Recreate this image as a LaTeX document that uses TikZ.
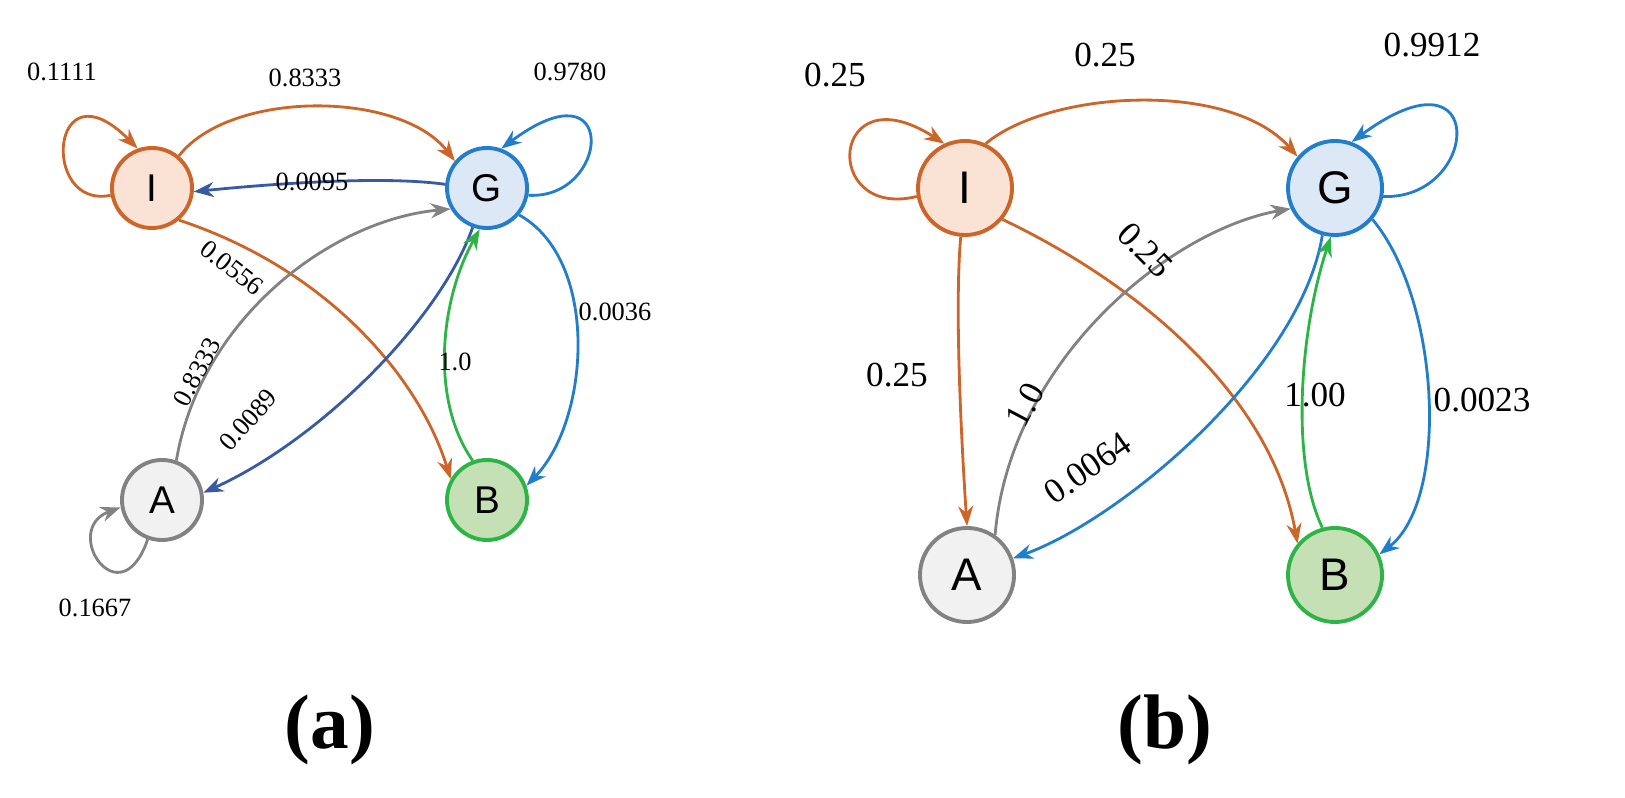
\documentclass[tikz,border=0pt]{standalone}
\usepackage{fontspec}
\setmainfont{Liberation Serif}
\newfontfamily\sansf{Liberation Sans}
\usetikzlibrary{arrows.meta}
\definecolor{orE}{RGB}{205,100,40}\definecolor{orF}{RGB}{250,226,212}
\definecolor{blE}{RGB}{35,125,205}\definecolor{blF}{RGB}{220,232,246}
\definecolor{dbE}{RGB}{55,90,165}
\definecolor{grE}{RGB}{130,130,130}\definecolor{grF}{RGB}{241,241,241}
\definecolor{gnE}{RGB}{45,180,70}\definecolor{gnF}{RGB}{196,224,180}
\tikzset{
  st/.style={circle, draw, line width=1.1pt, minimum size=0.8cm, inner sep=0pt, font=\sansf\fontsize{11}{11}\selectfont},
  stb/.style={st, minimum size=0.94cm, font=\sansf\fontsize{13}{13}\selectfont},
  ed/.style={-{Stealth[length=2mm,width=1.5mm]}, line width=0.8pt},
  pa/.style={font=\fontsize{7.5}{7.5}\selectfont},
  pb/.style={font=\fontsize{10}{10}\selectfont},
}
\begin{document}
\begin{tikzpicture}[x=0.01cm,y=-0.01cm]
\useasboundingbox (0,0) rectangle (1625,798);
% (a)
\node[st, draw=orE, fill=orF] (Ia) at (152,188) {I};
\node[st, draw=blE, fill=blF] (Ga) at (487,188) {G};
\node[st, draw=grE, fill=grF] (Aa) at (162,500) {A};
\node[st, draw=gnE, fill=gnF] (Ba) at (487,500) {B};
\draw[ed, orE] (Ia.190) .. controls (40,210) and (50,60) .. (Ia.110);
\draw[ed, orE] (Ia.50) .. controls (230,90) and (400,90) .. (Ga.140);
\draw[ed, dbE] (Ga.175) .. controls (380,175) and (260,185) .. (Ia.-5);
\draw[ed, blE] (Ga.-10) .. controls (610,200) and (620,60) .. (Ga.70);
\draw[ed, orE] (Ia.-50) .. controls (330,270) and (420,380) .. (Ba.150);
\draw[ed, grE] (Aa.70) .. controls (200,320) and (330,220) .. (Ga.210);
\draw[ed, dbE] (Ga.-110) .. controls (440,320) and (320,440) .. (Aa.10);
\draw[ed, gnE] (Ba.110) .. controls (430,400) and (440,300) .. (Ga.-100);
\draw[ed, blE] (Ga.-40) .. controls (600,260) and (590,420) .. (Ba.20);
\draw[ed, grE] (Aa.-110) .. controls (120,620) and (60,530) .. (Aa.190);
\node[pa] (la1) at (62,72) {0.1111};
\node[pa] (la2) at (305,78) {0.8333};
\node[pa] (la3) at (312,182) {0.0095};
\node[pa] (la4) at (570,72) {0.9780};
\node[pa, rotate=-38] (la5) at (232,268) {0.0556};
\node[pa, rotate=62] (la6) at (197,372) {0.8333};
\node[pa, rotate=48] (la7) at (248,420) {0.0089};
\node[pa] (la8) at (455,362) {1.0};
\node[pa] (la9) at (615,312) {0.0036};
\node[pa] (la10) at (95,608) {0.1667};
\node[font=\bfseries\fontsize{22}{22}\selectfont] (capa) at (330,730) {(a)};
% (b)
\node[stb, draw=orE, fill=orF] (Ib) at (965,188) {I};
\node[stb, draw=blE, fill=blF] (Gb) at (1335,188) {G};
\node[stb, draw=grE, fill=grF] (Ab) at (967,575) {A};
\node[stb, draw=gnE, fill=gnF] (Bb) at (1335,575) {B};
\draw[ed, orE] (Ib.190) .. controls (820,220) and (830,70) .. (Ib.115);
\draw[ed, orE] (Ib.65) .. controls (1050,90) and (1230,80) .. (Gb.140);
\draw[ed, blE] (Gb.-10) .. controls (1480,200) and (1490,40) .. (Gb.70);
\draw[ed, orE] (Ib.-95) .. controls (955,300) and (960,420) .. (Ab.90);
\draw[ed, orE] (Ib.-40) .. controls (1130,280) and (1270,390) .. (Bb.140);
\draw[ed, grE] (Ab.55) .. controls (1010,360) and (1170,230) .. (Gb.205);
\draw[ed, blE] (Gb.-105) .. controls (1300,370) and (1120,520) .. (Ab.20);
\draw[ed, gnE] (Bb.105) .. controls (1290,460) and (1300,330) .. (Gb.-95);
\draw[ed, blE] (Gb.-40) .. controls (1440,300) and (1450,500) .. (Bb.25);
\node[pb] (lb1) at (835,75) {0.25};
\node[pb] (lb2) at (1105,55) {0.25};
\node[pb] (lb3) at (1432,45) {0.9912};
\node[pb] (lb4) at (897,375) {0.25};
\node[pb, rotate=-45] (lb5) at (1145,250) {0.25};
\node[pb, rotate=62] (lb6) at (1025,405) {1.0};
\node[pb, rotate=35] (lb7) at (1088,468) {0.0064};
\node[pb] (lb8) at (1315,395) {1.00};
\node[pb] (lb9) at (1482,400) {0.0023};
\node[font=\bfseries\fontsize{22}{22}\selectfont] (capb) at (1165,730) {(b)};
\end{tikzpicture}
\end{document}
